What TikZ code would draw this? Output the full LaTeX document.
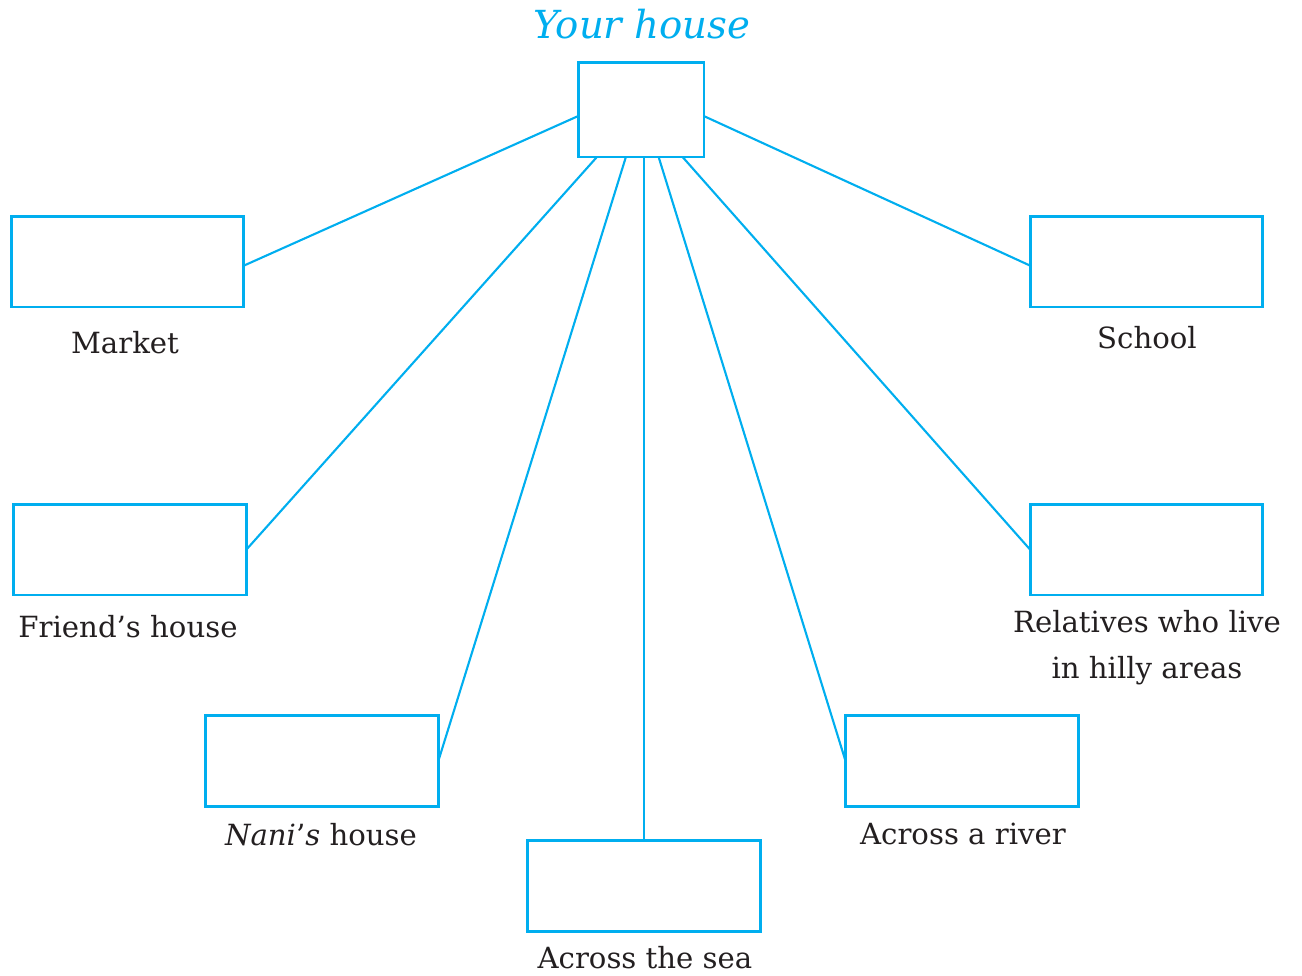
\documentclass[tikz,border=0pt]{standalone}
\usepackage{fontspec}
\setmainfont{DejaVu Serif}
\usepackage{tikz}
\usetikzlibrary{calc,positioning}
\definecolor{ncyan}{RGB}{0,174,239}
\definecolor{ntext}{RGB}{35,31,32}
\tikzset{
	placebox/.style={draw=ncyan, line width=1.7pt, minimum width=4.66cm, minimum height=1.82cm, inner sep=0pt, outer sep=0pt},
	homebox/.style={placebox, minimum width=2.52cm, minimum height=1.9cm},
	placelbl/.style={anchor=base, inner sep=0pt, text=ntext, font=\fontsize{16.6}{26}\selectfont},
	link/.style={draw=ncyan, line width=1.2pt}
}

\begin{document}
\begin{tikzpicture}[x=0.02cm, y=-0.02cm]
			%%%%% START %%%%%
			\useasboundingbox (0, 0) rectangle (1302, 975);
			
			\node[anchor=base, inner sep=0pt, text=ncyan, font=\fontsize{22}{26}\selectfont\itshape] (title) at (642, 38) {Your house};
			\node[homebox] (home) at (641, 109.5) {};
			
			\node[placebox] (market) at (127.5, 261.5) {};
			\node[placelbl] (marketlbl) at (125, 353) {Market};
			\node[placebox] (school) at (1146.5, 261.5) {};
			\node[placelbl] (schoollbl) at (1147, 348) {School};
			
			\node[placebox] (friend) at (130, 549.5) {};
			\node[placelbl] (friendlbl) at (128, 637) {Friend’s house};
			\node[placebox] (hills) at (1146.5, 549.5) {};
			\node[placelbl, align=center] (hillslbl) at (1147, 678) {Relatives who live\\in hilly areas};
			
			\node[placebox] (nani) at (322, 760.5) {};
			\node[placelbl] (nanilbl) at (321, 845) {\textit{Nani}’\textit{s} house};
			\node[placebox] (river) at (962, 761) {};
			\node[placelbl] (riverlbl) at (963, 844) {Across a river};
			\node[placebox] (sea) at (644, 885.5) {};
			\node[placelbl] (sealbl) at (645, 968) {Across the sea};
			
			\draw[link] (home.186) -- (market.-2);
			\draw[link] (home.-6) -- (school.182);
			\draw[link] ($(home.south west)!0.15!(home.south east)$) -- (friend.east);
			\draw[link] ($(home.south west)!0.38!(home.south east)$) -- (nani.east);
			\draw[link] (home.south -| sea.north) -- (sea.north);
			\draw[link] ($(home.south west)!0.64!(home.south east)$) -- (river.west);
			\draw[link] ($(home.south west)!0.83!(home.south east)$) -- (hills.west);
			%%%%% END %%%%%
\end{tikzpicture}
\end{document}
